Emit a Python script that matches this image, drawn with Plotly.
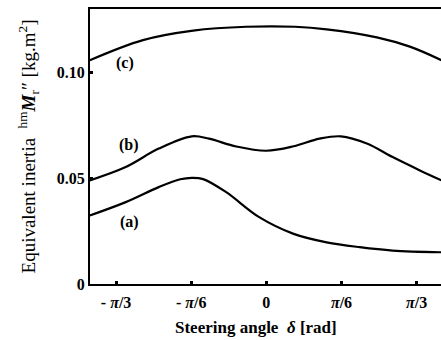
import plotly.graph_objects as go

# Series (a)
a_x = [-1.23, -0.98, -0.75, -0.60, -0.52, -0.44, -0.28, -0.05, 0.19, 0.42, 0.65, 0.88, 1.22]
a_y = [0.0324, 0.0387, 0.0458, 0.0495, 0.0502, 0.0496, 0.0434, 0.0316, 0.0237, 0.0197, 0.0174, 0.0158, 0.0150]
# Series (b)
b_x = [-1.23, -0.98, -0.75, -0.52, -0.40, -0.21, 0.0, 0.19, 0.37, 0.52, 0.70, 0.88, 1.07, 1.22]
b_y = [0.0490, 0.0553, 0.0640, 0.0698, 0.0687, 0.0650, 0.0630, 0.0651, 0.0687, 0.0698, 0.0664, 0.0600, 0.0537, 0.0490]
# Series (c)
c_x = [-1.23, -0.86, -0.51, -0.14, 0.20, 0.42, 0.77, 1.00, 1.22]
c_y = [0.1058, 0.1153, 0.1198, 0.1216, 0.1216, 0.1204, 0.1166, 0.1122, 0.1058]

series = [("(a)", a_x, a_y), ("(b)", b_x, b_y), ("(c)", c_x, c_y)]
label_pos = {"(a)": (-0.957, 0.0291), "(b)": (-0.957, 0.0656), "(c)": (-0.985, 0.1043)}

x_tickvals = [-1.0472, -0.5236, 0.0, 0.5236, 1.0472]
x_ticktext = ["- <i>π</i>/3", "- <i>π</i>/6", "0", "<i>π</i>/6", "<i>π</i>/3"]
y_tickvals = [0, 0.05, 0.10]
y_ticktext = ["0", "0.05", "0.10"]

FONT = "Liberation Serif"

fig = go.Figure()
for name, xs, ys in series:
    fig.add_trace(go.Scatter(x=xs, y=ys, mode="lines",
                             line=dict(color="black", width=2.2, shape="spline", smoothing=1.0),
                             showlegend=False, hoverinfo="skip"))
    lx, ly = label_pos[name]
    fig.add_annotation(x=lx, y=ly, text="<b>" + name + "</b>", showarrow=False,
                       font=dict(family=FONT, size=16, color="black"))

# x-axis title placed as annotation to match reference offset
fig.add_annotation(xref="paper", yref="paper", x=0.473, y=0, yshift=-43,
                   xanchor="center", yanchor="middle", showarrow=False,
                   text="<b>Steering angle  <i>δ</i> [rad]</b>",
                   font=dict(family=FONT, size=17, color="black"))

fig.update_layout(
    width=441, height=340,
    margin=dict(l=90, r=0, t=9, b=56),
    paper_bgcolor="white", plot_bgcolor="white",
    font=dict(family=FONT, size=16, color="black"),
    xaxis=dict(range=[-1.229, 1.217], tickvals=x_tickvals,
               ticktext=["<b>" + t + "</b>" for t in x_ticktext],
               showgrid=False, zeroline=False, showline=True, linecolor="black", linewidth=2,
               mirror=True, ticks="inside", ticklen=3, tickwidth=3, tickcolor="black",
               ticklabelstandoff=3,
               tickfont=dict(family=FONT, size=16)),
    yaxis=dict(range=[0, 0.13], tickvals=y_tickvals,
               ticktext=["<b>" + t + "</b>" for t in y_ticktext],
               showgrid=False, zeroline=False, showline=True, linecolor="black", linewidth=2,
               ticks="inside", ticklen=3, tickwidth=3, tickcolor="black",
               tickfont=dict(family=FONT, size=16),
               title=dict(text="Equivalent inertia  <sup>hm</sup><b><i>M</i></b><sub>r</sub>″ [kg.m<sup>2</sup>]",
                          font=dict(family=FONT, size=19), standoff=16)),
)

fig.write_html("out.html", config={"displayModeBar": False},
               post_script="document.body.style.margin='0';document.body.style.overflow='hidden';")
